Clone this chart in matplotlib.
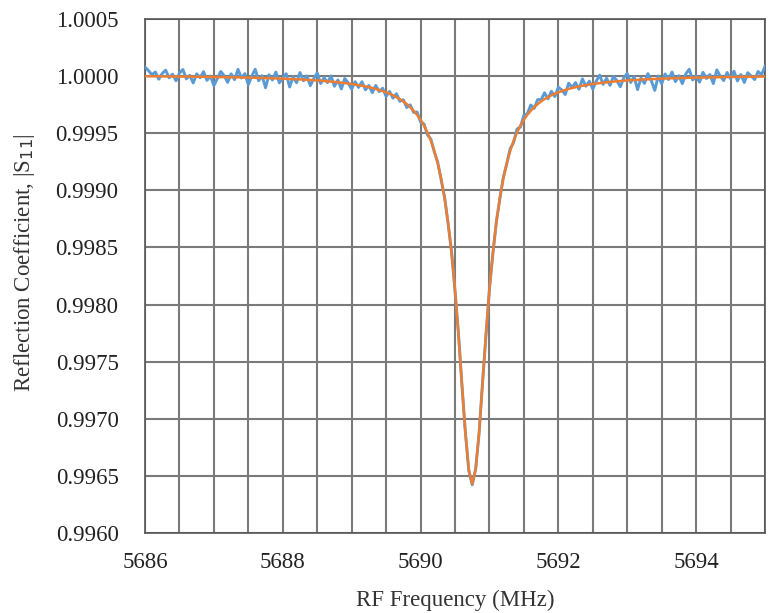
#/usr/bin/env python3
# -*- coding: utf-8 -*-

import numpy as np
import matplotlib
matplotlib.use('Agg')
import matplotlib.pyplot as plt

plt.rcParams['font.family'] = ['Liberation Serif', 'DejaVu Serif']

# RF frequency grid (MHz), 0.05 MHz step from 5686 to 5695
freq = np.linspace(5686.0, 5695.0, 181)

meas_ppm = [
    79, 49, 11, 36, -27, 23, 52, -15, 17, -41,
    26, 58, -24, 7, -60, 20, -14, 39, -37, 1,
    -83, -20, 41, 3, -55, 20, -31, 59, -17, 22,
    -75, 1, 60, -41, 4, -102, 12, -34, 35, -59,
    -12, 21, -95, -4, -58, 31, -41, 2, -84, -21,
    27, -65, -13, -57, 2, -89, -34, -112, -21, -60,
    -114, -49, -99, -49, -120, -82, -144, -82, -136, -106,
    -177, -134, -193, -154, -221, -207, -275, -252, -318, -314,
    -402, -418, -514, -552, -663, -756, -910, -1065, -1292, -1538,
    -1877, -2249, -2700, -3112, -3453, -3578, -3439, -3126, -2682, -2265,
    -1863, -1556, -1276, -1079, -890, -772, -637, -582, -464, -445,
    -342, -329, -253, -282, -205, -207, -146, -199, -133, -179,
    -97, -121, -161, -62, -99, -57, -115, -24, -89, -44,
    -114, -45, 9, -72, -19, -81, -3, -40, -93, -15,
    22, -56, -4, -118, -16, -64, 22, -41, -125, 1,
    -67, 19, -30, 36, -48, 3, -66, 19, 60, -34,
    2, -53, 33, -21, 14, -65, 55, 1, -39, 32,
    -23, 43, -42, 14, -56, 30, 0, -30, 41, 11,
    86,
]

# fitted resonance curve, deviation from 1 in ppm
fit_ppm = [
    -1, -1, -1, -2, -2, -2, -3, -3, -3, -3,
    -4, -4, -4, -5, -5, -5, -6, -6, -7, -7,
    -8, -8, -9, -9, -10, -10, -11, -11, -12, -13,
    -13, -14, -15, -16, -16, -17, -18, -19, -20, -21,
    -22, -24, -25, -26, -28, -29, -31, -33, -34, -36,
    -38, -40, -43, -45, -48, -51, -54, -57, -61, -65,
    -69, -74, -79, -84, -90, -97, -104, -112, -121, -131,
    -142, -154, -168, -184, -201, -222, -245, -272, -303, -339,
    -382, -433, -494, -567, -657, -766, -902, -1071, -1282, -1546,
    -1871, -2259, -2692, -3118, -3445, -3570, -3445, -3118, -2692, -2259,
    -1871, -1546, -1282, -1071, -902, -766, -657, -567, -494, -433,
    -382, -339, -303, -272, -245, -222, -201, -184, -168, -154,
    -142, -131, -121, -112, -104, -97, -90, -84, -79, -74,
    -69, -65, -61, -57, -54, -51, -48, -45, -43, -40,
    -38, -36, -34, -33, -31, -29, -28, -26, -25, -24,
    -22, -21, -20, -19, -18, -17, -16, -16, -15, -14,
    -13, -13, -12, -11, -11, -10, -10, -9, -9, -8,
    -8, -7, -7, -6, -6, -5, -5, -5, -4, -4,
    -4,
]

s11_meas = 1.0 + np.array(meas_ppm) * 1e-6
s11_fit = 1.0 + np.array(fit_ppm) * 1e-6

fig = plt.figure(figsize=(7.7, 6.13), dpi=100)
ax = fig.add_axes([0.1883, 0.1305, 0.8052, 0.8385])

ax.plot(freq, s11_meas, color='#5B9BD5', lw=2.1, zorder=3)
ax.plot(freq, s11_fit, color='#ED7D31', lw=1.8, zorder=4)

ax.set_xlim(5686, 5695)
ax.set_ylim(0.9960, 1.0005)
ax.set_xticks(np.arange(5686, 5695, 2))
ax.set_xticks(np.arange(5686, 5695.01, 0.5), minor=True)
ax.set_yticks(np.arange(0.9960, 1.00051, 0.0005))
ax.yaxis.set_major_formatter(matplotlib.ticker.FormatStrFormatter('%.4f'))

ax.grid(which='both', axis='x', color='#7a7a7a', lw=1.5)
ax.grid(which='major', axis='y', color='#7a7a7a', lw=1.5)
ax.set_axisbelow(True)

ax.tick_params(which='both', length=0)
ax.tick_params(axis='y', pad=19, labelsize=16.5, colors='#222222')
ax.tick_params(axis='x', pad=14, labelsize=16.5, colors='#222222')

for sp in ax.spines.values():
    sp.set_color('#555555')
    sp.set_linewidth(1.2)

ax.set_xlabel('RF Frequency (MHz)', fontsize=16.5, color='#333333', labelpad=12)
ax.set_ylabel(r'Reflection Coefficient, |S$_{11}$|', fontsize=16.5,
              color='#333333')
ax.yaxis.set_label_coords(-0.174, 0.527)

plt.savefig('out.png', dpi=100)
